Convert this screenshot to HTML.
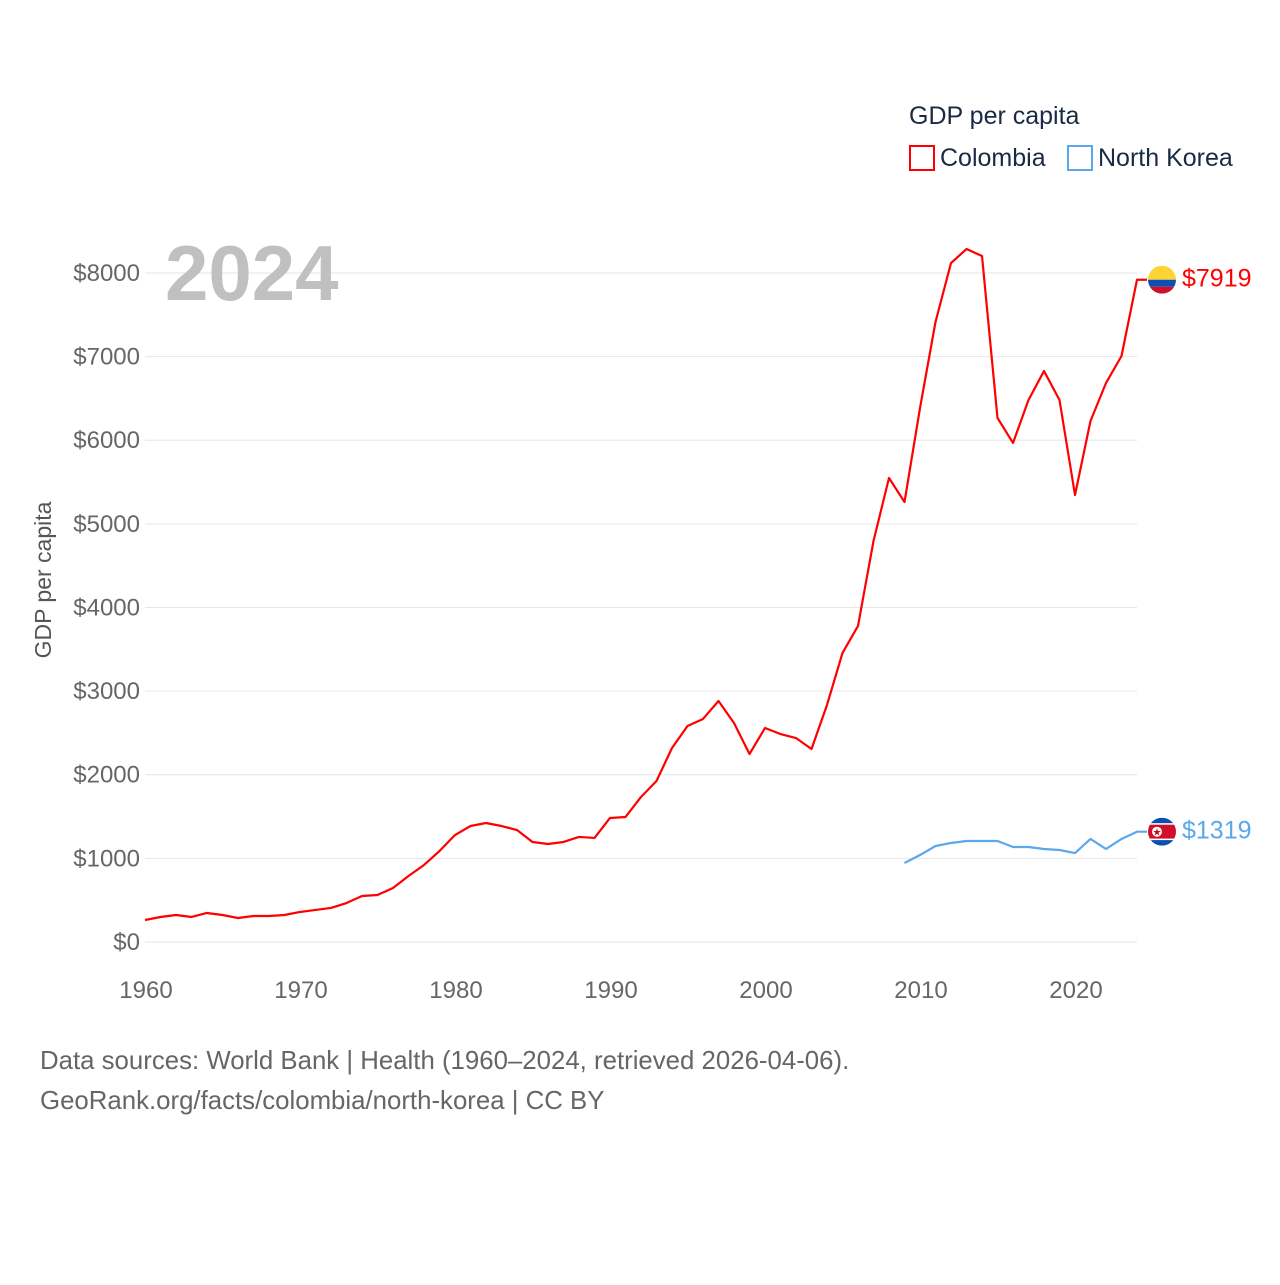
<!DOCTYPE html>
<html><head><meta charset="utf-8"><style>
body{margin:0;background:#fff;font-family:"Liberation Sans",sans-serif}
</style></head><body>
<svg id="chart" width="1280" height="1280" xmlns="http://www.w3.org/2000/svg" font-family="Liberation Sans, sans-serif">
<rect width="1280" height="1280" fill="#fff"/>
<g id="grid"></g>
<g id="lines"></g>
<text x="165" y="300" font-size="78" font-weight="bold" fill="#c0c0c0">2024</text>
<text transform="translate(51,580) rotate(-90)" text-anchor="middle" font-size="23" fill="#555">GDP per capita</text>
<text x="909" y="124" font-size="25" fill="#1a2a44">GDP per capita</text>
<g><rect x="910" y="146" width="24" height="24" fill="none" stroke="#f00" stroke-width="2"/><text x="940" y="166" font-size="25" fill="#1a2a44">Colombia</text></g>
<g><rect x="1068" y="146" width="24" height="24" fill="none" stroke="#5aa7ee" stroke-width="2"/><text x="1098" y="166" font-size="25" fill="#1a2a44">North Korea</text></g>
<text x="40" y="1069" font-size="25.8" fill="#666">Data sources: World Bank | Health (1960–2024, retrieved 2026-04-06).</text>
<text x="40" y="1109" font-size="25.8" fill="#666">GeoRank.org/facts/colombia/north-korea | CC BY</text>
</svg>
<script>
const colYears = [];
for (let y = 1960; y <= 2024; y++) colYears.push(y);
const colombia = [263,299,323,299,347,323,287,311,311,323,359,383,407,466,550,562,646,789,921,1088,1279,1387,1423,1387,1339,1196,1172,1196,1256,1244,1483,1495,1734,1925,2320,2583,2667,2882,2619,2248,2559,2487,2439,2308,2834,3456,3779,4795,5548,5261,6385,7414,8119,8286,8203,6266,5967,6481,6828,6481,5345,6230,6684,7007,7919];
const nkYears = [2009,2010,2011,2012,2013,2014,2015,2016,2017,2018,2019,2020,2021,2022,2023,2024];
const northKorea = [945,1040,1148,1184,1208,1208,1208,1136,1136,1112,1100,1064,1232,1112,1232,1319];
const yTicks = [0,1000,2000,3000,4000,5000,6000,7000,8000];
const xTicks = [1960,1970,1980,1990,2000,2010,2020];
const NS = "http://www.w3.org/2000/svg";
const xs = v => 145 + (v - 1960) * 15.5;
const ys = v => 942 - v * 0.08363;
function mk(tag, attrs, parent){const e=document.createElementNS(NS,tag);for(const k in attrs)e.setAttribute(k,attrs[k]);parent.appendChild(e);return e;}
const grid = document.getElementById('grid');
yTicks.forEach(t=>{
  const l=mk('line',{x1:145,x2:1137,y1:ys(t),y2:ys(t),stroke:'#e6e6e6','stroke-width':1},grid);
  
  
  const tx=mk('text',{x:140,y:ys(t)+8,'text-anchor':'end','font-size':24,fill:'#666'},grid);
  tx.textContent='$'+t;
  
  
});
xTicks.forEach(t=>{
  const tx=mk('text',{x:xs(t)+1,y:998,'text-anchor':'middle','font-size':24,fill:'#666'},grid);
  tx.textContent=t;
  
  
});
const lines=document.getElementById('lines');
function series(years, vals, color, name, flag){
  const pts=years.map((y,i)=>xs(y)+','+ys(vals[i]));
  const lx=xs(years[years.length-1]), ly=ys(vals[vals.length-1]);
  pts.push((lx+10)+','+ly);
  const p=mk('polyline',{points:pts.join(' '),fill:'none',stroke:color,'stroke-width':2.2,'stroke-linejoin':'round'},lines);
  
  
  const g=mk('g',{},lines);
  
  
  const cx=1162, r=14;
  const cp=mk('clipPath',{id:'cp-'+name},g);
  mk('circle',{cx:cx,cy:ly,r:r},cp);
  const fg=mk('g',{'clip-path':'url(#cp-'+name+')'},g);
  flag.forEach(s=>mk('rect',{x:cx-r,y:ly-r+s[0]*2*r,width:2*r,height:s[1]*2*r,fill:s[2]},fg));
  if(name==='north-korea'){mk('circle',{cx:cx-5,cy:ly,r:5,fill:'#fff'},fg);mk('text',{x:cx-5,y:ly+4,'text-anchor':'middle','font-size':10,fill:'#d00'},fg).textContent='★';}
  const t=mk('text',{x:1182,y:ly+7,'font-size':25,fill:color},lines);
  t.textContent='$'+vals[vals.length-1];
  
  
}
series(colYears,colombia,'#ff0000','colombia',[[0,0.5,'#fcd535'],[0.5,0.25,'#0b4fb5'],[0.75,0.25,'#d0102a']]);
series(nkYears,northKorea,'#5aa7ee','north-korea',[[0,0.2,'#0b4fb5'],[0.2,0.05,'#fff'],[0.25,0.5,'#d0102a'],[0.75,0.05,'#fff'],[0.8,0.2,'#0b4fb5']]);
</script>
</body></html>
